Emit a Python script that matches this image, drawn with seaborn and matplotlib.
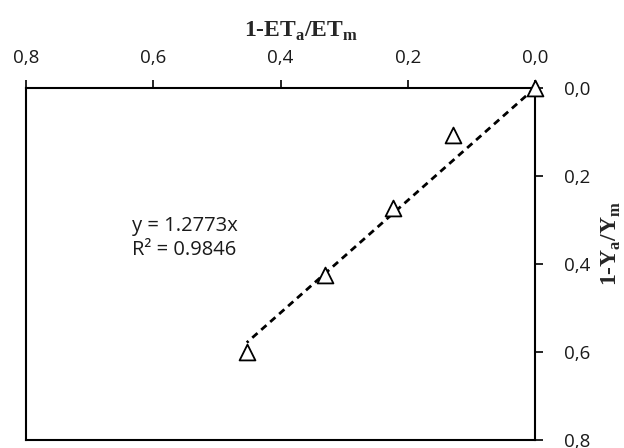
import matplotlib
matplotlib.use("Agg")
import matplotlib.pyplot as plt
import seaborn as sns
import numpy as np
import pandas as pd

# data
et_deficit = [0.0, 0.129, 0.223, 0.330, 0.453]   # 1-ETa/ETm
yield_deficit = [0.0, 0.107, 0.273, 0.425, 0.600]  # 1-Ya/Ym
slope = 1.2773
r2 = 0.9846
tick_vals = [0.0, 0.2, 0.4, 0.6, 0.8]
tick_labels = ["0,0", "0,2", "0,4", "0,6", "0,8"]

sns.set_theme(style="white")
plt.rcParams['font.family'] = ['Open Sans', 'DejaVu Sans']

df = pd.DataFrame({"x": et_deficit, "y": yield_deficit})
line_x = np.array([min(et_deficit), max(et_deficit)])
trend = pd.DataFrame({"x": line_x, "y": slope * line_x})

fig = plt.figure(figsize=(6.24, 4.48), dpi=100)
ax = fig.add_axes([26/624, 1-440/448, (535-26)/624, (440-88)/448])

sns.lineplot(data=trend, x="x", y="y", ax=ax, color="black", linestyle=(0, (2.5, 1.8)), linewidth=2)
sns.scatterplot(data=df, x="x", y="y", ax=ax, marker="^", s=130,
                facecolor="white", edgecolor="black", linewidth=1.3, zorder=3)
for coll in ax.collections:
    coll.set_clip_on(False)

ax.set_xlim(0.8, 0.0)
ax.set_ylim(0.8, 0.0)
ax.xaxis.tick_top()
ax.yaxis.tick_right()
ax.xaxis.set_label_position("top")
ax.yaxis.set_label_position("right")
ax.set_xticks(tick_vals)
ax.set_xticklabels(tick_labels)
ax.set_yticks(tick_vals)
ax.set_yticklabels(tick_labels)
ax.tick_params(axis="both", direction="out", length=6, width=1.2, color="black",
               labelsize=13.5, labelcolor="#1a1a1a")
ax.tick_params(axis="x", pad=9, top=True, bottom=False)
ax.tick_params(axis="y", pad=15, right=True, left=False)

for s in ax.spines.values():
    s.set_color("black")
    s.set_linewidth(1.5)

ax.set_xlabel(r"1-ET$_\mathregular{a}$/ET$_\mathregular{m}$", fontsize=17,
              fontweight="bold", family="Liberation Serif")
ax.set_ylabel(r"1-Y$_\mathregular{a}$/Y$_\mathregular{m}$", fontsize=17,
              fontweight="bold", family="Liberation Serif")
ax.xaxis.set_label_coords((301-26)/509, 1 + 51/352)
ax.yaxis.set_label_coords(1 + (600-535)/509, 1 - (243-88)/352)

ax.text(0.634, 0.29, f"y = {slope}x\nR² = {r2}", fontsize=14.5, color="#1a1a1a",
        ha="left", va="top", linespacing=1.3)

fig.savefig("out.png", dpi=100)
